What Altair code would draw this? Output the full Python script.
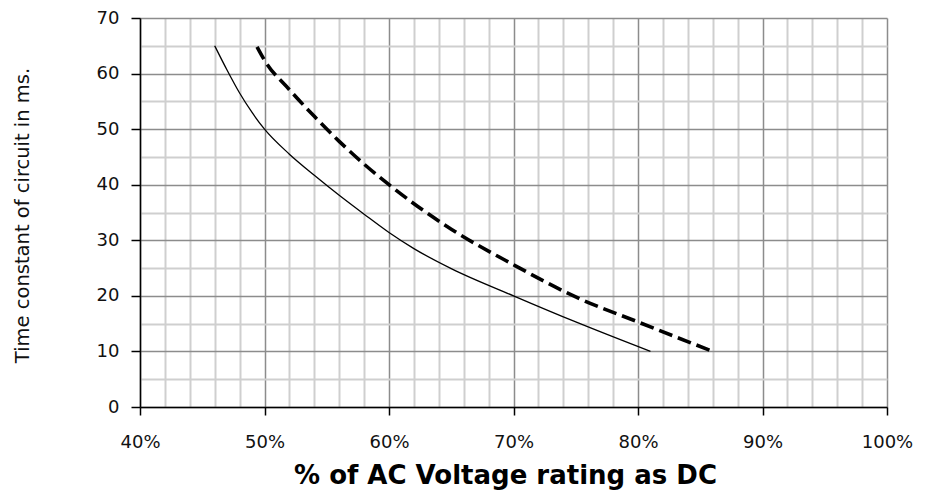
import altair as alt
import pandas as pd

# Solid curve (lower)
solid_x = [46, 47, 48, 49, 50, 52, 54, 56, 58, 60, 62, 65, 70, 75, 81]
solid_y = [65, 60.6, 56.5, 53.0, 50, 45.5, 41.7, 38.1, 34.7, 31.4, 28.5, 24.9, 20, 15.3, 10]
# Dashed curve (upper)
dash_x = [49.4, 50, 52, 54, 56, 58, 60, 65, 70, 75, 80, 86]
dash_y = [64.8, 62.4, 57.1, 52.3, 47.8, 43.7, 40, 32, 25.6, 19.8, 15.3, 10]

x_grid = [40, 42, 44, 46, 48, 50, 52, 54, 56, 58, 60, 62, 64, 66, 68, 70,
          72, 74, 76, 78, 80, 82, 84, 86, 88, 90, 92, 94, 96, 98, 100]
y_grid = [0, 5, 10, 15, 20, 25, 30, 35, 40, 45, 50, 55, 60, 65, 70]

x_title = "% of AC Voltage rating as DC"
y_title = "Time constant of circuit in ms."

solid_df = pd.DataFrame({"v": solid_x, "t": solid_y})
dash_df = pd.DataFrame({"v": dash_x, "t": dash_y})

W, H = 747, 389

major = "datum.value % 10 === 0"

x_enc = alt.X(
    "v:Q",
    scale=alt.Scale(domain=[40, 100], nice=False, zero=False),
    axis=alt.Axis(
        values=x_grid,
        title=x_title,
        labelExpr="datum.value % 10 === 0 ? datum.value + '%' : ''",
        labelFont="DejaVu Sans",
        labelFontSize=18,
        labelColor="#111111",
        labelPadding=18,
        labelFlush=False,
        labelOverlap=False,
        tickSize=8,
        tickWidth=1.5,
        tickColor="#000000",
        tickOpacity=alt.condition(major, alt.value(1), alt.value(0)),
        domainColor="#000000",
        domainWidth=1.5,
        grid=True,
        gridColor=alt.condition(major, alt.value("#8c8c8c"), alt.value("#cfcfcf")),
        gridWidth=alt.condition(major, alt.value(1.5), alt.value(2)),
        titleFont="DejaVu Sans",
        titleFontSize=26,
        titleFontWeight="bold",
        titleColor="#000000",
        titleX=365,
        titleY=76,
        titleBaseline="alphabetic",
        titleAlign="center",
    ),
)

y_enc = alt.Y(
    "t:Q",
    scale=alt.Scale(domain=[0, 70], nice=False),
    axis=alt.Axis(
        values=y_grid,
        title=y_title,
        labelExpr="datum.value % 10 === 0 ? datum.value : ''",
        labelFont="DejaVu Sans",
        labelFontSize=18,
        labelColor="#111111",
        labelPadding=12,
        labelFlush=False,
        labelOverlap=False,
        tickSize=9,
        tickWidth=1.5,
        tickColor="#000000",
        tickOpacity=alt.condition(major, alt.value(1), alt.value(0)),
        domainColor="#000000",
        domainWidth=1.5,
        grid=True,
        gridColor=alt.condition(major, alt.value("#8c8c8c"), alt.value("#cfcfcf")),
        gridWidth=alt.condition(major, alt.value(1.5), alt.value(2)),
        titleFont="DejaVu Sans",
        titleFontSize=19.5,
        titleFontWeight="normal",
        titleColor="#111111",
        titleAngle=270,
        titleX=-112,
        titleY=197,
        titleBaseline="alphabetic",
        titleAlign="center",
    ),
)

solid = alt.Chart(solid_df).mark_line(
    color="#000000", strokeWidth=1.3, interpolate="monotone"
).encode(x=x_enc, y=y_enc, order="v:Q")

dashed = alt.Chart(dash_df).mark_line(
    color="#000000", strokeWidth=3.6, strokeDash=[14, 6], interpolate="monotone"
).encode(x=x_enc, y=y_enc, order="v:Q")

chart = (
    alt.layer(solid, dashed)
    .properties(
        width=W,
        height=H,
        autosize=alt.AutoSizeParams(type="none"),
        padding={"left": 132, "top": 10, "right": 30, "bottom": 86},
        background="#ffffff",
    )
    .configure_view(strokeWidth=0)
)

chart.save("out.html", embed_options={"renderer": "svg", "actions": False})
